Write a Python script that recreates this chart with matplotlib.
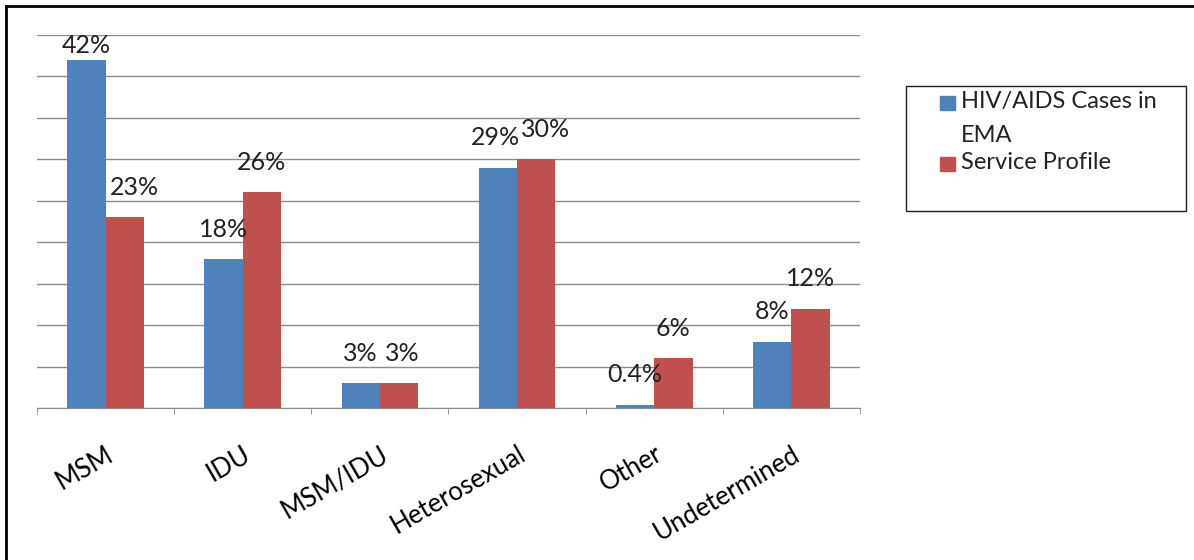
import numpy as np
import matplotlib.pyplot as plt
from matplotlib.patches import Rectangle
from matplotlib.lines import Line2D

plt.rcParams['font.family'] = ['Lato', 'DejaVu Sans']

# donnees
categories = ['MSM', 'IDU', 'MSM/IDU', 'Heterosexual', 'Other', 'Undetermined']
cas_ema = [42, 18, 3, 29, 0.4, 8]
profil_service = [23, 26, 3, 30, 6, 12]
etiq_ema = ['42%', '18%', '3%', '29%', '0.4%', '8%']
etiq_service = ['23%', '26%', '3%', '30%', '6%', '12%']
noms_series = ['HIV/AIDS Cases in\nEMA', 'Service Profile']

bleu = '#4F81BD'
rouge = '#C0504D'
W, H = 1194, 560

fig = plt.figure(figsize=(11.94, 5.6), dpi=100)
ax = fig.add_axes([37/W, 1 - 408/H, (860-37)/W, (408-35)/H])

x = np.arange(len(categories))
w = 0.28
b1 = ax.bar(x - w/2, cas_ema, w, color=bleu, label=noms_series[0])
b2 = ax.bar(x + w/2, profil_service, w, color=rouge, label=noms_series[1])

ax.set_xlim(-0.5, len(categories) - 0.5)
ax.set_ylim(0, 45)
ax.set_yticks(np.arange(0, 46, 5))
ax.yaxis.grid(True, color='#8c8c8c', linewidth=1)
ax.set_axisbelow(True)
ax.tick_params(axis='y', length=0, labelleft=False)
for s in ['top', 'right', 'left']:
    ax.spines[s].set_visible(False)
ax.spines['bottom'].set_color('#8c8c8c')

ax.set_xticks(x)
ax.set_xticklabels(categories, rotation=30, ha='right', rotation_mode='anchor', fontsize=18.5)
ax.tick_params(axis='x', which='major', length=0, pad=24)
ax.set_xticks(np.arange(-0.5, len(categories)), minor=True)
ax.tick_params(axis='x', which='minor', length=4, color='#8c8c8c')

# etiquettes au-dessus des barres (decalage horizontal en points pour eviter les chevauchements)
decal_ema = [0, 0, 0, -2, 0, 0]
decal_service = [7, 0, 2, 7, 0, 0]
for xs, vals, labs, dx in [(x - w/2, cas_ema, etiq_ema, decal_ema),
                           (x + w/2, profil_service, etiq_service, decal_service)]:
    for xi, v, t, d in zip(xs, vals, labs, dx):
        ax.annotate(t, (xi, min(v + 2.2, 42.4)), xytext=(d, 0), textcoords='offset points',
                    ha='center', va='bottom', fontsize=18, color='#222222')

# legende dessinee a la main
fig.patches.append(Rectangle((906/W, 1 - 211/H), (1186-906)/W, 125/H,
                             transform=fig.transFigure, fill=False, edgecolor='#222222', linewidth=1))
leg_y = [103, 164]
leg_couleurs = [bleu, rouge]
for yc, c, nom in zip(leg_y, leg_couleurs, noms_series):
    fig.patches.append(Rectangle((940/W, 1 - (yc + 7)/H), 15/W, 14/H,
                                 transform=fig.transFigure, color=c))
    fig.text(961/W, 1 - (yc - 12)/H, nom, ha='left', va='top', fontsize=17,
             color='#222222', linespacing=1.75)

# cadre exterieur
fig.add_artist(Line2D([6/W, 6/W], [0, 1 - 6/H], color='black', linewidth=2, transform=fig.transFigure))
fig.add_artist(Line2D([6/W, 1], [1 - 6/H, 1 - 6/H], color='black', linewidth=2, transform=fig.transFigure))

fig.savefig('out.png', dpi=100)
